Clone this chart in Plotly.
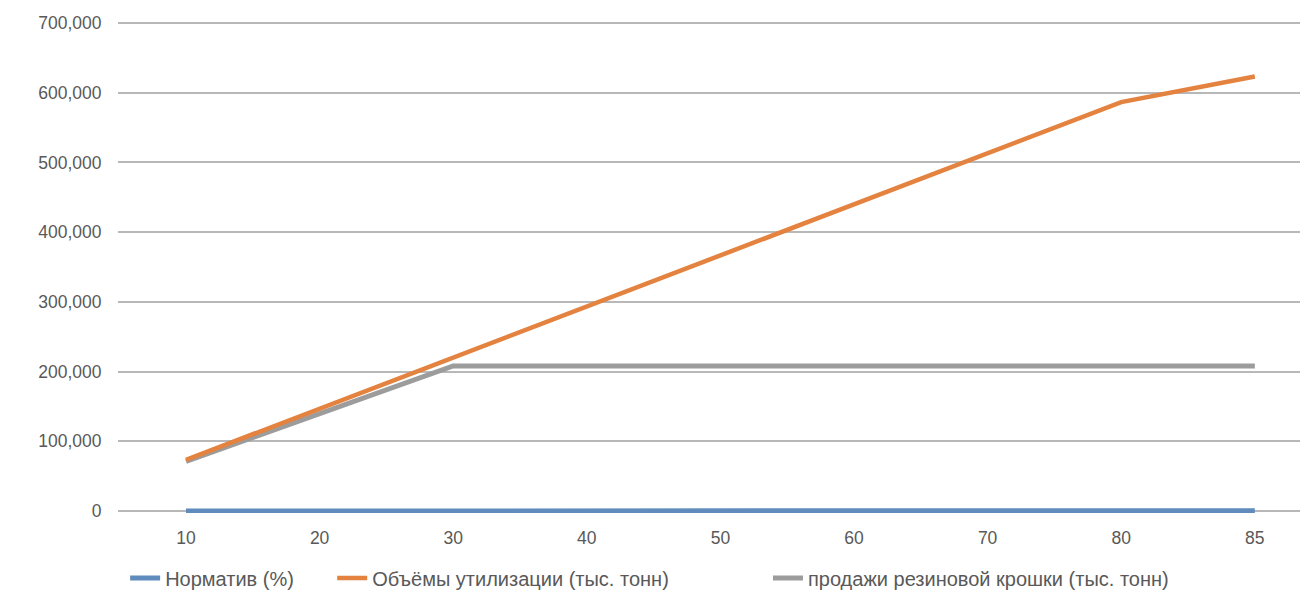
import plotly.graph_objects as go

categories = ["10", "20", "30", "40", "50", "60", "70", "80", "85"]
normativ = [10, 20, 30, 40, 50, 60, 70, 80, 85]
utilization = [73333, 146667, 220000, 293333, 366667, 440000, 513333, 586667, 623333]
crumb_sales = [71000, 140000, 208000, 208000, 208000, 208000, 208000, 208000, 208000]
y_ticks = [0, 100000, 200000, 300000, 400000, 500000, 600000, 700000]

FONT = "Liberation Sans, Arial, sans-serif"
TXT = "#595959"

fig = go.Figure()
fig.add_trace(go.Scatter(x=categories, y=normativ, mode="lines", name="Норматив (%)",
                         line=dict(color="#5f8bbd", width=5), legend="legend"))
fig.add_trace(go.Scatter(x=categories, y=crumb_sales, mode="lines",
                         name="продажи резиновой крошки (тыс. тонн)",
                         line=dict(color="#9c9c9c", width=5), legend="legend3"))
fig.add_trace(go.Scatter(x=categories, y=utilization, mode="lines",
                         name="Объёмы утилизации (тыс. тонн)",
                         line=dict(color="#e4823f", width=4.5), legend="legend2"))

def leg(x):
    return dict(orientation="h", x=x, xanchor="left", y=-0.132, yanchor="middle",
                font=dict(family=FONT, size=20, color=TXT), bgcolor="rgba(0,0,0,0)",
                itemwidth=30)

fig.update_layout(
    width=1300, height=597,
    margin=dict(l=110, r=0, t=13, b=92),
    paper_bgcolor="white", plot_bgcolor="white",
    font=dict(family=FONT, size=17.5, color=TXT),
    showlegend=True,
    legend=leg(0.006),
    legend2=leg(0.18),
    legend3=leg(0.5462),
)
fig.update_xaxes(type="category", range=[-0.509, 8.398], showgrid=False, zeroline=False,
                 showline=False, ticks="outside", ticklen=9, tickcolor="rgba(0,0,0,0)",
                 tickfont=dict(family=FONT, size=17.5, color=TXT))
fig.update_yaxes(range=[-3000, 703000], tickvals=y_ticks, tickformat=",", showgrid=True,
                 gridcolor="#b8b8b8", gridwidth=2, zeroline=False, showline=False,
                 ticks="outside", ticklen=12, tickcolor="rgba(0,0,0,0)",
                 tickfont=dict(family=FONT, size=17.5, color=TXT))

fig.write_html("out.html")
